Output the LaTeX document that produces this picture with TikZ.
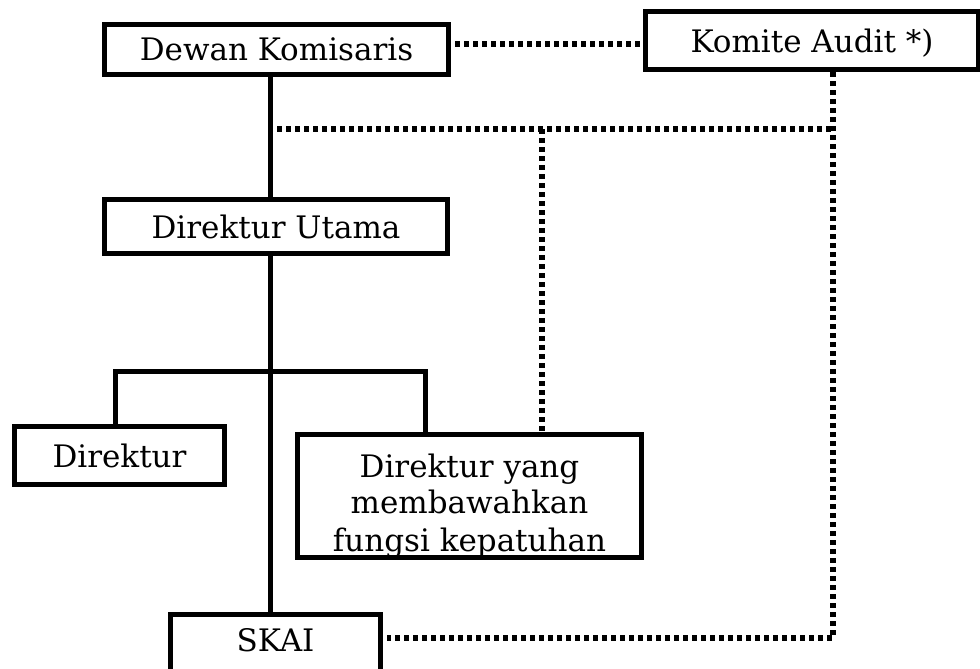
\documentclass[tikz,border=0pt]{standalone}
\usepackage{fontspec}
\setmainfont{DejaVu Serif}
\begin{document}
\begin{tikzpicture}[x=1pt,y=-1pt,
  box/.style={draw, line width=5.5pt, inner sep=0pt, font=\fontsize{31}{36}\selectfont, text depth=0pt},
  txt/.style={inner sep=0pt, font=\fontsize{31}{36}\selectfont},
  conn/.style={line width=5pt},
  dot/.style={line width=5.5pt, dash pattern=on 5pt off 4pt}]
\useasboundingbox (0,0) rectangle (980,669);
\clip (0,0) rectangle (980,669);
% texts of the compliance director box (drawn first, border covers descenders)
\node[txt, anchor=base] (yl1) at (469.5,477) {Direktur yang};
\node[txt, anchor=base] (yl2) at (469.5,513) {membawahkan};
\node[txt, anchor=base] (yl3) at (469.5,551) {fungsi kepatuhan};
% boxes
\node[box, minimum width=344pt, minimum height=50pt] (dewan) at (276.5,49.5) {Dewan Komisaris};
\node[box, minimum width=333pt, minimum height=58pt] (komite) at (812,40.5) {Komite Audit *)};
\node[box, minimum width=343pt, minimum height=54pt] (utama) at (276,226.5) {Direktur Utama};
\node[box, minimum width=210pt, minimum height=58pt] (dir) at (119.5,455.5) {Direktur};
\node[box, minimum width=344pt, minimum height=123pt] (diryang) at (469.5,496) {};
\node[box, minimum width=210pt, minimum height=70pt] (skai) at (275.5,649.5) {};
\node[txt] (skailbl) at (275.5,640) {SKAI};
% helper coordinates
\coordinate (vx) at (270,0);
\coordinate (xl) at (115,0);
\coordinate (xr) at (425,0);
\coordinate (yb) at (0,371);
\coordinate (ydk) at (0,44);
\coordinate (xk) at (833,0);
\coordinate (ya) at (0,129);
\coordinate (ys) at (0,638);
\coordinate (xm) at (542,0);
\coordinate (ds) at (277,129);
% solid connectors
\draw[conn] (dewan.south -| vx) -- (utama.north -| vx);
\draw[conn] (utama.south -| vx) -- (skai.north -| vx);
\draw[conn] (dir.north -| xl) -- (xl |- yb) -- (xr |- yb) -- (diryang.north -| xr);
% dotted connectors
\draw[dot, shorten <=4pt] (dewan.east |- ydk) -- (komite.west |- ydk);
\draw[dot] (komite.south -| xk) -- (xk |- ys) -- ([xshift=4pt]skai.east |- ys);
\draw[dot] (ds) -- (xk |- ya);
\draw[dot] (xm |- ya) -- (diryang.north -| xm);
\end{tikzpicture}
\end{document}
